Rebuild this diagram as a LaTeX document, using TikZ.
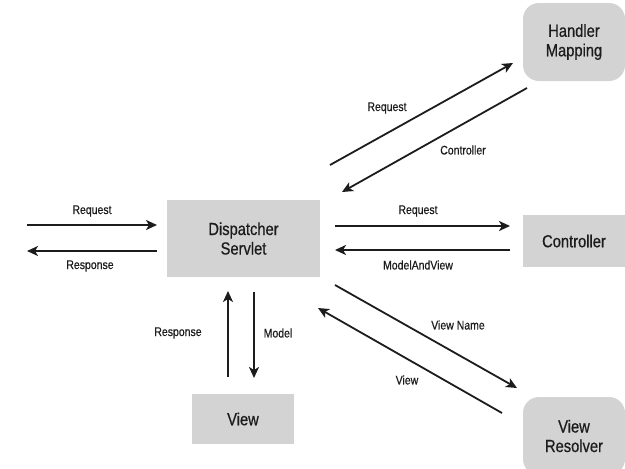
\documentclass[tikz,border=0pt]{standalone}
\usepackage{fontspec}
\setmainfont{Liberation Sans}[FakeStretch=0.84,FakeBold=0.6]
\usetikzlibrary{arrows.meta}
\definecolor{boxgray}{RGB}{211,211,211}
\definecolor{ink}{RGB}{28,28,28}
\tikzset{
  x=1pt,y=-1pt,
  plainbox/.style={fill=boxgray,draw=none,font=\fontsize{17.5}{19.5}\selectfont,align=center,text=ink,inner sep=0pt},
  roundbox/.style={plainbox,rounded corners=16pt},
  flow/.style={draw=ink,line width=1.8pt,-{Stealth[length=11pt,width=10pt,inset=3pt]}},
  lbl/.style={font=\fontsize{12.5}{14}\selectfont,text=ink,inner sep=0pt}
}
\begin{document}
\begin{tikzpicture}
\useasboundingbox (0,0) rectangle (625,469);
% boxes
\node[plainbox,minimum width=153pt,minimum height=77pt] (ds) at (243.5,238.5) {Dispatcher\\Servlet};
\node[roundbox,minimum width=102pt,minimum height=78pt] (hm) at (574,42) {Handler\\Mapping};
\node[plainbox,minimum width=102pt,minimum height=52pt] (ctl) at (574,241) {Controller};
\node[roundbox,minimum width=102pt,minimum height=78pt] (vr) at (574,436) {View\\Resolver};
\node[plainbox,minimum width=102pt,minimum height=50pt] (vw) at (243,419) {View};
% free ends
\coordinate (lin) at (27,225);
\coordinate (lout) at (27,251);
% left
\draw[flow] (lin) -- (157,225) coordinate (lina);
\draw[flow] (157,251) coordinate (louta) -- (lout);
\node[lbl] at (92,211) {Request};
\node[lbl] at (90,266) {Response};
% handler mapping
\coordinate (hmS) at (330,165);
\coordinate (hmE) at (513,63);
\coordinate (hcS) at (527,88);
\coordinate (hcE) at (342,192);
\draw[flow] (hmS) -- (hmE);
\draw[flow] (hcS) -- (hcE);
\node[lbl] at (387,108) {Request};
\node[lbl] at (463,150) {Controller};
% controller
\draw[flow] (335,226) coordinate (crS) -- (510,226) coordinate (crE);
\draw[flow] (510,250) coordinate (cmS) -- (335,250) coordinate (cmE);
\node[lbl] at (418,211) {Request};
\node[lbl] at (418,265) {ModelAndView};
% view resolver
\coordinate (vnS) at (335,285);
\coordinate (vnE) at (517,388);
\coordinate (vbS) at (502,413);
\coordinate (vbE) at (318,308);
\draw[flow] (vnS) -- (vnE);
\draw[flow] (vbS) -- (vbE);
\node[lbl] at (458,325) {View Name};
\node[lbl] at (407,380) {View};
% view
\draw[flow] (228,377) coordinate (rS) -- (228,291) coordinate (rE);
\draw[flow] (254,292) coordinate (mS) -- (254,378) coordinate (mE);
\node[lbl] at (178,333) {Response};
\node[lbl] at (278,333) {Model};
\end{tikzpicture}
\end{document}
